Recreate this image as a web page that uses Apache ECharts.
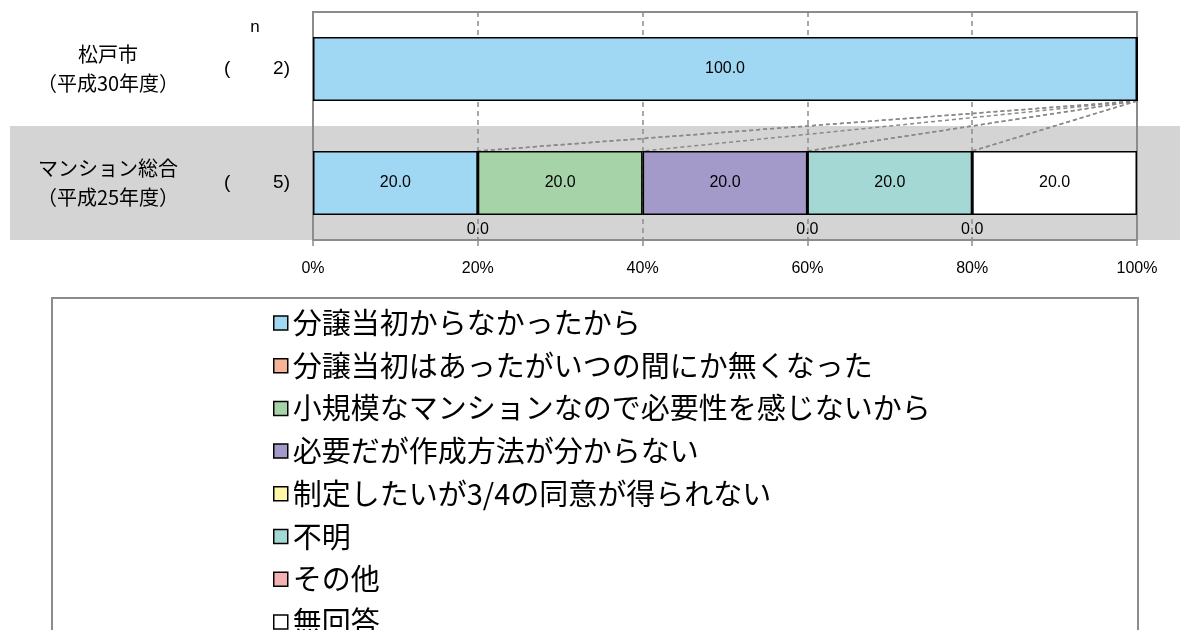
<!DOCTYPE html>
<html><head><meta charset="utf-8">
<script src="https://cdn.jsdelivr.net/npm/echarts@6/dist/echarts.min.js"></script>
<style>html,body{margin:0;padding:0;background:#fff}#c{width:1180px;height:630px}</style>
</head><body><div id="c"></div>
<script>
const categories = ['松戸市\n（平成30年度）', 'マンション総合\n（平成25年度）'];
const nValues = [2, 5];
const seriesNames = ['分譲当初からなかったから','分譲当初はあったがいつの間にか無くなった','小規模なマンションなので必要性を感じないから','必要だが作成方法が分からない','制定したいが3/4の同意が得られない','不明','その他','無回答'];
const seriesColors = ['#a0d8f4','#f6b496','#a6d4a8','#a49aca','#fff6a6','#a4d8d4','#f4b2b2','#ffffff'];
const values = [
  [100.0, 20.0],
  [0.0, 0.0],
  [0.0, 20.0],
  [0.0, 20.0],
  [0.0, 0.0],
  [0.0, 20.0],
  [0.0, 0.0],
  [0.0, 20.0]
];
const showZeroLabels = [false, true];
const xTicks = [0, 20, 40, 60, 80, 100];

const FONT = "'Noto Sans CJK JP', sans-serif";
const NUMFONT = "'Liberation Sans', 'Noto Sans CJK JP', sans-serif";
const BAR_RATIO = 0.56;

const chart = echarts.init(document.getElementById('c'));

const barSeries = seriesNames.map((name, i) => ({
  name, type: 'bar', stack: 'total', barWidth: (BAR_RATIO*100)+'%',
  itemStyle: { color: seriesColors[i], borderColor: '#000', borderWidth: 1.5 },
  label: { show: true, position: 'inside', color: '#000', fontFamily: NUMFONT, fontSize: 16,
           formatter: p => p.value.toFixed(1) },
  data: values[i].map((v, r) => {
    if (v === 0) {
      return showZeroLabels[r]
        ? { value: v, label: { show: true, position: 'bottom', distance: 6 } }
        : { value: v, label: { show: false } };
    }
    return v;
  }),
  z: 3
}));

// cumulative boundaries for connector lines
const cum = categories.map((_, r) => { let s = 0; return values.map(col => (s += col[r])); });
const connData = [];
for (let i = 0; i < values.length - 1; i++) connData.push([cum[0][i], cum[1][i], 0]);

const connSeries = {
  type: 'custom', silent: true, z: 2,
  encode: { x: 0, y: 2 },
  renderItem: (params, api) => {
    const p1 = api.coord([api.value(0), 0]);
    const p2 = api.coord([api.value(1), 1]);
    const half = api.size([0, 1])[1] * BAR_RATIO / 2;
    return { type: 'line', shape: { x1: p1[0], y1: p1[1] + half, x2: p2[0], y2: p2[1] - half },
             style: { stroke: '#8a8a8a', lineWidth: 1.5, lineDash: [4, 3] } };
  },
  data: connData
};

chart.setOption({
  animation: false,
  textStyle: { fontFamily: FONT },
  grid: { left: 313, right: 43, top: 12, bottom: 390, show: true, borderColor: '#8c8c8c', borderWidth: 2, backgroundColor: 'transparent' },
  xAxis: {
    type: 'value', min: 0, max: 100, interval: 20,
    axisLine: { show: true, lineStyle: { color: '#8c8c8c', width: 2 } },
    axisTick: { show: true, length: 6, lineStyle: { color: '#8c8c8c', width: 1.5 } },
    axisLabel: { color: '#000', fontSize: 16, fontFamily: NUMFONT, margin: 21, formatter: '{value}%' },
    splitLine: { show: true, lineStyle: { color: '#8c8c8c', width: 1.5, type: [5, 4] } }
  },
  yAxis: [
    { type: 'category', inverse: true, data: categories,
      axisLine: { show: false }, axisTick: { show: false },
      axisLabel: { align: 'center', margin: 205, color: '#000', fontSize: 20, lineHeight: 29, fontFamily: FONT } },
    { type: 'category', inverse: true, data: nValues.map(String), position: 'left',
      axisLine: { show: false }, axisTick: { show: false },
      axisLabel: { align: 'right', margin: 23, color: '#000', fontFamily: NUMFONT,
        formatter: v => '{p|(}{n|' + v + ')}',
        rich: { p: { width: 46, align: 'left', fontSize: 19, fontFamily: NUMFONT },
                n: { width: 20, align: 'right', fontSize: 19, fontFamily: NUMFONT } } } }
  ],
  legend: {
    data: seriesNames, orient: 'vertical', left: 273, top: 308, height: 600, padding: 0,
    itemWidth: 14, itemHeight: 14, itemGap: 12.7, icon: 'rect',
    textStyle: { fontSize: 29, lineHeight: 30, color: '#000', fontFamily: FONT },
    itemStyle: { borderColor: '#000', borderWidth: 1.5 },
    selectedMode: false
  },
  series: [...barSeries, connSeries]
});

// decorative band and legend frame placed from axis coordinates
const c0 = chart.convertToPixel({ yAxisIndex: 0 }, 0);
const c1 = chart.convertToPixel({ yAxisIndex: 0 }, 1);
const band = c1 - c0;
chart.setOption({
  graphic: [
    { type: 'rect', z: -10, silent: true, shape: { x: 10, y: c1 - band / 2, width: 1170, height: band }, style: { fill: '#d4d4d4' } },
    { type: 'rect', z: -10, silent: true, shape: { x: 52, y: 298, width: 1086, height: 400 }, style: { fill: 'none', stroke: '#8c8c8c', lineWidth: 2 } },
    { type: 'text', silent: true, x: 255, y: 27, style: { text: 'n', fontSize: 17, fontFamily: NUMFONT, fill: '#000', align: 'center', verticalAlign: 'middle' } }
  ]
});
</script></body></html>
